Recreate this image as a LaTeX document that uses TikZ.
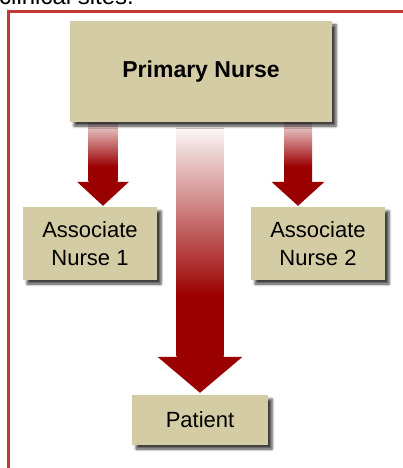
\documentclass[tikz,border=0pt]{standalone}
\usepackage{fontspec}
\setmainfont{Liberation Sans}
\usetikzlibrary{positioning,calc,backgrounds,shadows.blur}

\definecolor{boxtan}{RGB}{212,204,164}
\definecolor{arrowred}{RGB}{155,0,0}
\definecolor{framered}{RGB}{192,57,52}

\pgfdeclareverticalshading{sidefade}{100bp}{color(0bp)=(arrowred); color(38bp)=(arrowred); color(75bp)=(arrowred!15); color(100bp)=(arrowred!15)}
\pgfdeclareverticalshading{longfade}{100bp}{color(0bp)=(arrowred); color(38bp)=(arrowred); color(75bp)=(white); color(100bp)=(white)}

% tip, start anchor, shaft half width, head half width, head length, shading
\newcommand{\redarrow}[6]{%
  \shade[shading=#6] ($(#1 |- #2)+(-#3,0)$) rectangle ($(#1)+(#3,-#5)$);
  \fill[arrowred] ($(#1)+(-#4,-#5)$) -- ($(#1)+(#4,-#5)$) -- (#1) -- cycle;
}

\begin{document}
\begin{tikzpicture}[x=1pt,y=-1pt,
  box/.style={fill=boxtan, align=center, inner sep=0pt,
    font=\fontsize{22}{28}\selectfont,
    blur shadow={shadow xshift=4pt,shadow yshift=-4pt,shadow blur radius=2.5pt,shadow opacity=75}}]
  \useasboundingbox (0,0) rectangle (403,468);
  \clip (0,0) rectangle (403,468);
  \node[anchor=base west, inner sep=0pt, font=\fontsize{24}{28}\selectfont] (caption) at (-1,5) {clinical sites.};
  \draw[framered, line width=3pt] (8.5,480) |- (420,11.5);

  \node[box, minimum width=262pt, minimum height=101pt, font=\bfseries\fontsize{23}{28}\selectfont] (primary) at (201,71.5) {Primary Nurse};
  \node[box, minimum width=134pt, minimum height=73pt] (assoc1) at (90,243.5) {Associate\\Nurse 1};
  \node[box, minimum width=134pt, minimum height=73pt] (assoc2) at (318,243.5) {Associate\\Nurse 2};
  \node[box, minimum width=136pt, minimum height=50pt] (patient) at (200,420) {Patient};

  \coordinate (tip1) at ($(assoc1.north)+(13,-1)$);
  \coordinate (tip2) at ($(assoc2.north)+(-20,-1)$);
  \coordinate (tip3) at ($(patient.north)+(0,-2)$);
  \begin{scope}[on background layer]
    \redarrow{tip1}{primary.south}{14.5}{26}{24}{sidefade}
    \redarrow{tip2}{primary.south}{14}{26.5}{24}{sidefade}
    \redarrow{tip3}{primary.south}{23.5}{42.5}{36}{longfade}
  \end{scope}
\end{tikzpicture}
\end{document}
